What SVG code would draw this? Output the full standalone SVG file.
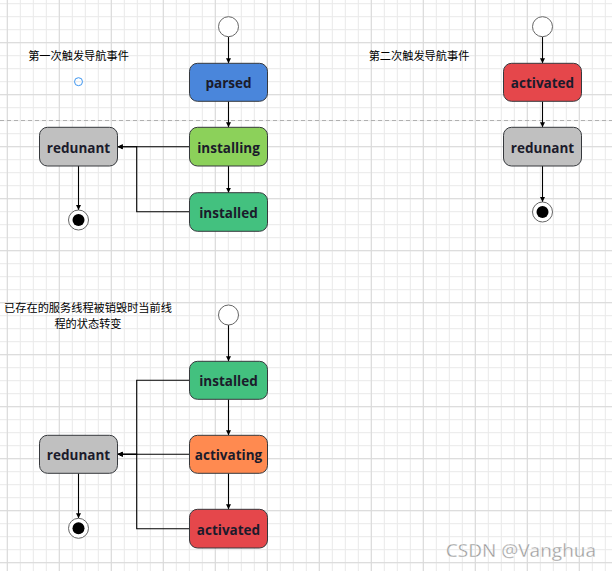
<svg xmlns="http://www.w3.org/2000/svg" width="612" height="571" viewBox="0 0 612 571">
<defs>
<pattern id="minor" patternUnits="userSpaceOnUse" x="6.8" y="3.2" width="13" height="13">
<path d="M0 0.5H13M0.5 0V13" stroke="#e9e9e9" stroke-width="1" fill="none"/>
</pattern>
<pattern id="major" patternUnits="userSpaceOnUse" x="6.8" y="-9.8" width="52" height="52">
<path d="M0 0.5H52M0.5 0V52" stroke="#d9d9d9" stroke-width="1" fill="none"/>
</pattern>
<marker id="arr" markerUnits="userSpaceOnUse" markerWidth="6" markerHeight="6" refX="5" refY="3" orient="auto">
<path d="M0 0.5L5 3L0 5.5z" fill="#000"/>
</marker>
<style>
.node rect{stroke:#36393d;stroke-width:1}
.node text{font-family:"Open Sans","DejaVu Sans",sans-serif;font-weight:bold;font-size:13.5px;fill:#1b1b2b;text-anchor:middle;dominant-baseline:central}
.start{fill:#fff;stroke:#666;stroke-width:1}
.endo{fill:#fff;stroke:#666;stroke-width:1}
.endi{fill:#000}
.conn path{fill:none;stroke:#000;stroke-width:1.1}
.lbl{font-family:"Noto Sans CJK SC","Noto Sans",sans-serif;font-size:11.2px;fill:#000;text-anchor:middle}
.blue{fill:#4a86db}.lgreen{fill:#8cd15a}.green{fill:#43c17f}.gray{fill:#c0c0c0}.red{fill:#e5474b}.orange{fill:#ff8a50}
</style>
</defs>
<rect width="612" height="571" fill="#fff"/>
<rect width="612" height="571" fill="url(#minor)"/>
<rect width="612" height="571" fill="url(#major)"/>
<line x1="0" y1="120.5" x2="612" y2="120.5" stroke="#b0b0b0" stroke-width="1" stroke-dasharray="4 3"/>

<text class="lbl" x="78.5" y="60">第一次触发导航事件</text>
<circle id="tiny" cx="78.5" cy="81.7" r="4" fill="none" stroke="#3d95f0" stroke-width="1"/>
<text class="lbl" x="419" y="60">第二次触发导航事件</text>
<text class="lbl" x="88" y="312.3" font-size="11.7">已存在的服务线程被销毁时当前线</text>
<text class="lbl" x="88" y="327.5" font-size="11.7">程的状态转变</text>

<g class="conn">
<path d="M228.5 36.7V63.3" marker-end="url(#arr)"/>
<path d="M228.5 101.3V127.3" marker-end="url(#arr)"/>
<path d="M228.5 166V192.7" marker-end="url(#arr)"/>
<path d="M189.5 146.7H117.7" marker-end="url(#arr)"/>
<path d="M189.5 211.7H136.7V146.7H117.7" marker-end="url(#arr)"/>
<path d="M78.5 166V210" marker-end="url(#arr)"/>
<path d="M542.5 36.7V63.3" marker-end="url(#arr)"/>
<path d="M542.5 101.3V127.3" marker-end="url(#arr)"/>
<path d="M542.5 166V202" marker-end="url(#arr)"/>
<path d="M228.5 325V361.3" marker-end="url(#arr)"/>
<path d="M228.5 399.3V435.3" marker-end="url(#arr)"/>
<path d="M228.5 473.3V509.3" marker-end="url(#arr)"/>
<path d="M189.5 454.3H117.7" marker-end="url(#arr)"/>
<path d="M189.5 380.3H136.7V454.3H117.7" marker-end="url(#arr)"/>
<path d="M189.5 528.7H136.7V454.3H117.7" marker-end="url(#arr)"/>
<path d="M78.5 473.3V518.3" marker-end="url(#arr)"/>
</g>

<g id="start1"><circle class="start" cx="228.5" cy="26.7" r="10"/></g>
<g id="parsed" class="node"><rect class="blue" x="189.5" y="63.3" width="78" height="38" rx="8"/><text x="228.5" y="83.3">parsed</text></g>
<g id="installing" class="node"><rect class="lgreen" x="189.5" y="127.3" width="78" height="38.7" rx="8"/><text x="228.5" y="147.7">installing</text></g>
<g id="installed1" class="node"><rect class="green" x="189.5" y="192.7" width="78" height="38.6" rx="8"/><text x="228.5" y="213">installed</text></g>
<g id="redunant1" class="node"><rect class="gray" x="39.5" y="127.3" width="78" height="38.7" rx="8"/><text x="78.5" y="147.7">redunant</text></g>
<g id="end1"><circle class="endo" cx="78.5" cy="220" r="10"/><circle class="endi" cx="78.5" cy="220" r="6"/></g>

<g id="start2"><circle class="start" cx="542.5" cy="26.7" r="10"/></g>
<g id="activated2" class="node"><rect class="red" x="503.5" y="63.3" width="78" height="38" rx="8"/><text x="542.5" y="83.3">activated</text></g>
<g id="redunant2" class="node"><rect class="gray" x="503.5" y="127.3" width="78" height="38.7" rx="8"/><text x="542.5" y="147.7">redunant</text></g>
<g id="end2"><circle class="endo" cx="542.5" cy="212" r="10"/><circle class="endi" cx="542.5" cy="212" r="6"/></g>

<g id="start3"><circle class="start" cx="228.5" cy="315" r="10"/></g>
<g id="installed3" class="node"><rect class="green" x="189.5" y="361.3" width="78" height="38" rx="8"/><text x="228.5" y="381.3">installed</text></g>
<g id="activating3" class="node"><rect class="orange" x="189.5" y="435.3" width="78" height="38" rx="8"/><text x="228.5" y="455.3">activating</text></g>
<g id="activated3" class="node"><rect class="red" x="189.5" y="509.3" width="78" height="38.7" rx="8"/><text x="228.5" y="529.7">activated</text></g>
<g id="redunant3" class="node"><rect class="gray" x="39.5" y="435.3" width="78" height="38" rx="8"/><text x="78.5" y="455.3">redunant</text></g>
<g id="end3"><circle class="endo" cx="78.5" cy="528.3" r="10"/><circle class="endi" cx="78.5" cy="528.3" r="6"/></g>

<text x="596" y="556.5" text-anchor="end" font-family="Open Sans, DejaVu Sans, sans-serif" font-size="19" fill="#9a9a9a" stroke="#ffffff" stroke-width="0.3">CSDN @Vanghua</text>
</svg>
